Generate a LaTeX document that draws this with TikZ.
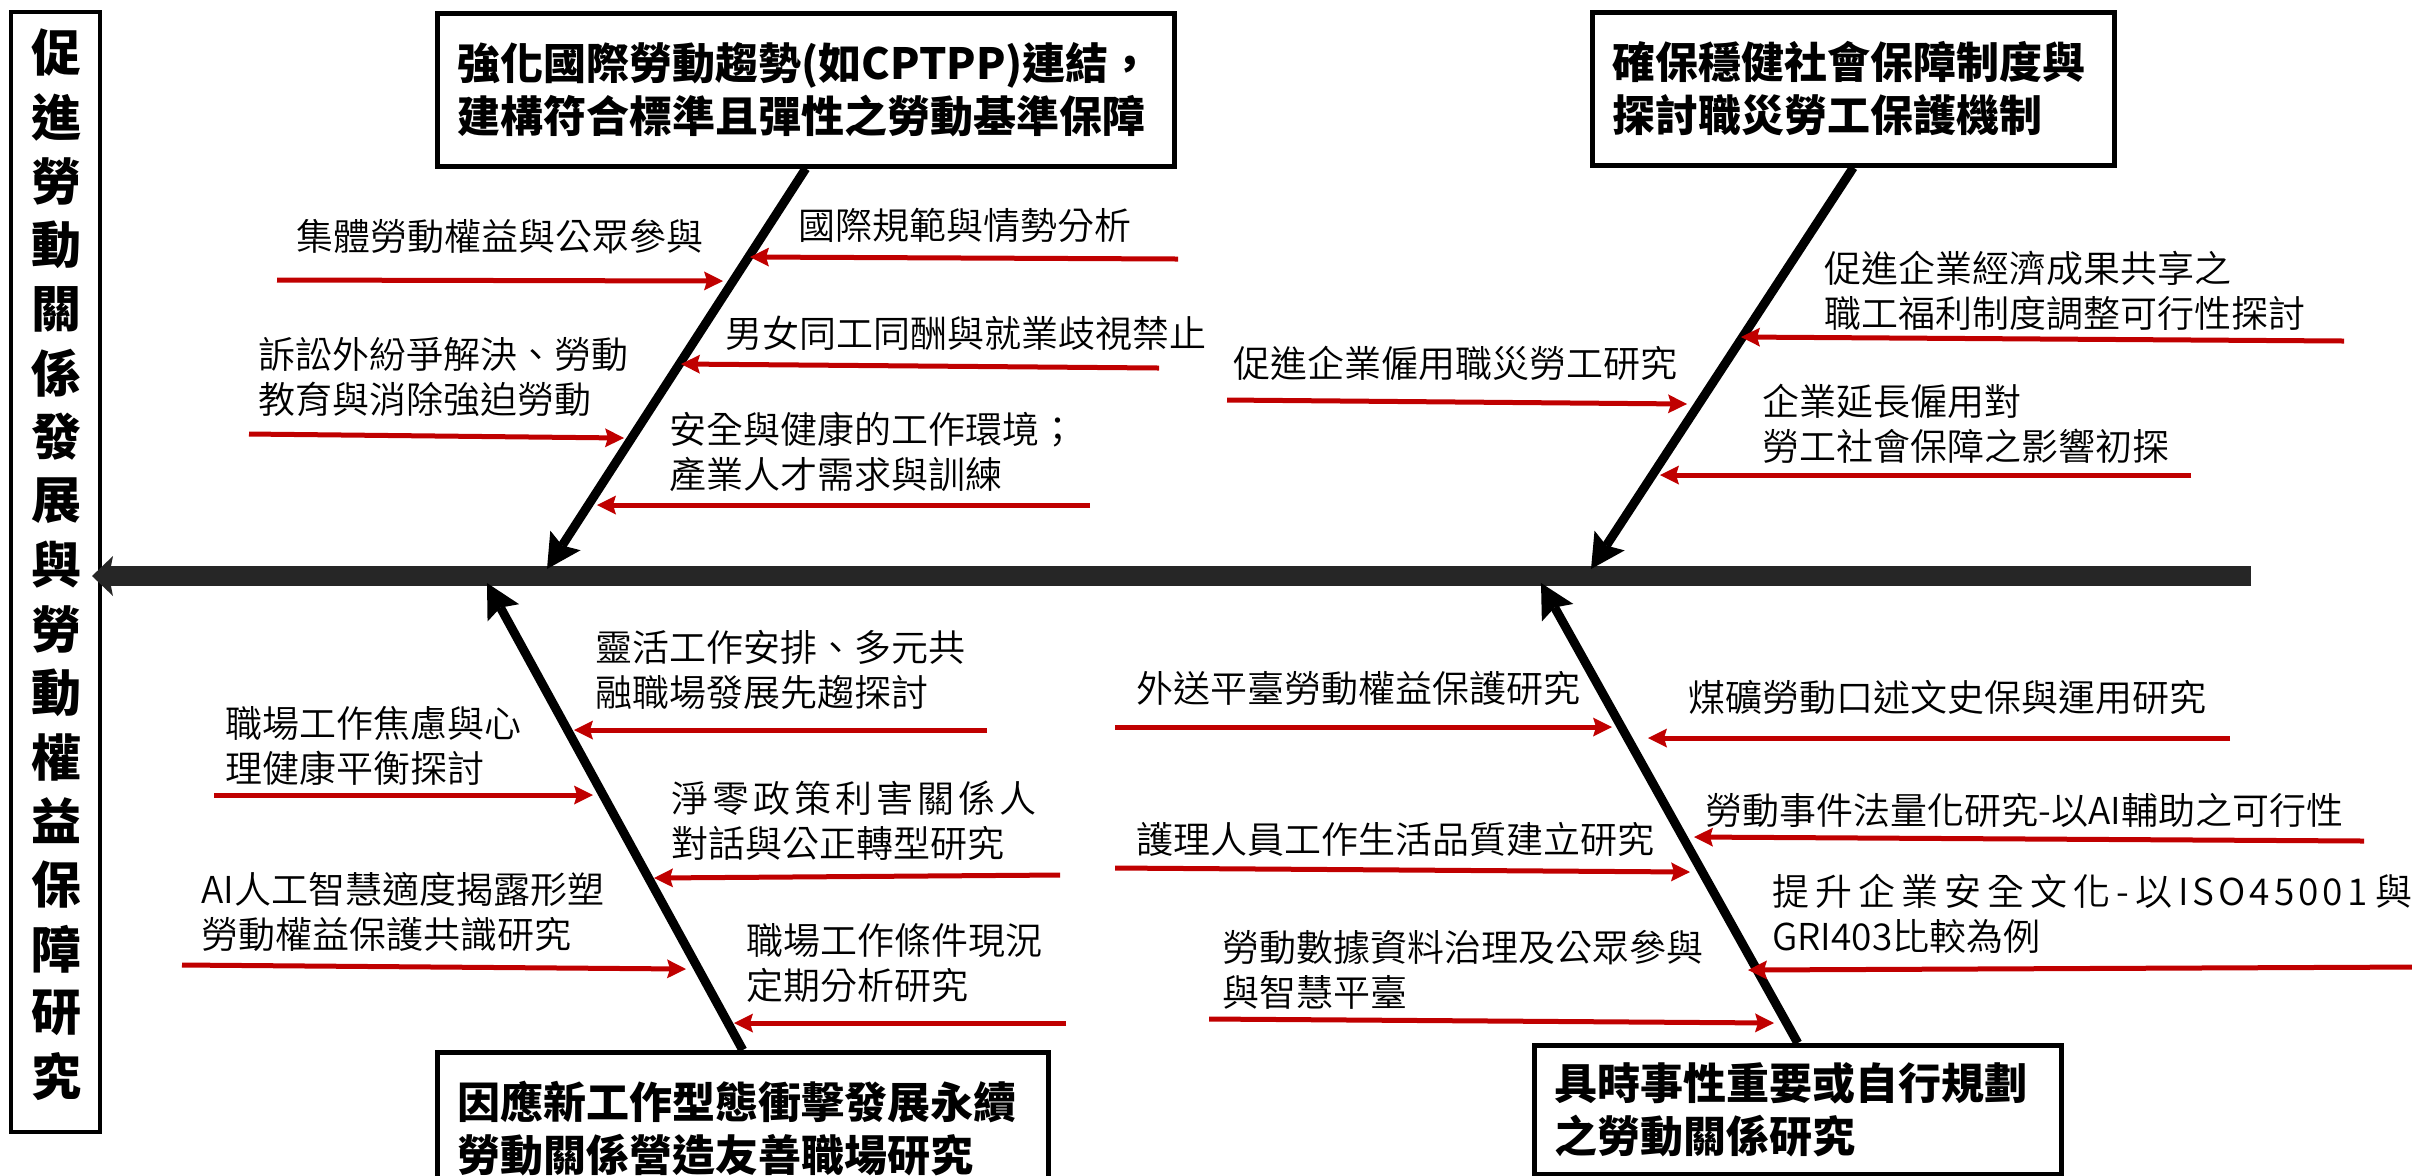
\documentclass[tikz,border=0pt]{standalone}
\usepackage{fontspec}
\newfontfamily\cjk{Noto Sans CJK TC}
\IfFontExistsTF{Noto Sans CJK TC DemiLight}{\newfontfamily\cjkl{Noto Sans CJK TC DemiLight}}{\newfontfamily\cjkl{Noto Sans CJK TC}}
\usetikzlibrary{arrows.meta,calc}
\definecolor{redarr}{HTML}{C00000}
\definecolor{spinec}{HTML}{262626}
\newcommand\ks{\kern3pt}
\newcommand\kt{\kern2pt}
\begin{document}
\begin{tikzpicture}[x=0.5pt,y=-0.5pt,
  lbl/.style={anchor=west, inner sep=0pt, align=left, font=\cjkl\fontsize{18.5}{22.5}\selectfont},
  catbox/.style={draw, line width=2.25pt, fill=white, anchor=north west, inner xsep=10pt, inner ysep=0pt, align=left, font=\cjk\bfseries\fontsize{21.5}{26.5}\selectfont},
  spine/.style={spinec, line width=10pt, -{Stealth[length=10.5pt,width=20pt,inset=2pt,line width=0pt]}},
  bone/.style={black, line width=4.5pt, -{Stealth[length=17pt,width=18pt,inset=3pt,line width=0pt]}},
  cause/.style={redarr, line width=2.5pt, -{Stealth[length=9.5pt,width=9.5pt,inset=1.5pt,line width=0pt]}},
  titlechar/.style={inner sep=0pt, font=\cjk\bfseries\fontsize{25}{30}\selectfont}]
\useasboundingbox (0,0) rectangle (2412,1175);

% title box
\node[draw, line width=2pt, minimum width=44.5pt, minimum height=560pt, inner sep=0pt] (title) at (55.5,572) {};
\foreach \c [count=\i from 0] in {促,進,勞,動,關,係,發,展,與,勞,動,權,益,保,障,研,究}
  \node[titlechar] (tc\i) at (57,53+64*\i) {\c};

% category boxes
\node[catbox, text width=348.5pt, minimum height=76.5pt] (tlbox) at (435,11) {強化國際勞動趨勢(如CPTPP)連結，\\建構符合標準且彈性之勞動基準保障};
\node[catbox, text width=241pt, minimum height=76.5pt] (trbox) at (1590,10) {確保穩健社會保障制度與\\探討職災勞工保護機制};
\node[catbox, text width=285.5pt, minimum height=76.5pt] (blbox) at (435,1050) {因應新工作型態衝擊發展永續\\勞動關係營造友善職場研究};
\node[catbox, text width=243.5pt, minimum height=64.5pt] (brbox) at (1532,1043) {具時事性重要或自行規劃\\之勞動關係研究};

% spine
\coordinate (spR) at (2251,576);
\coordinate (sptip) at ($(title.east |- spR)+(-10,0)$);
\draw[spine] (spR) -- (sptip);

% bones
\coordinate (tltip) at (547,569);
\coordinate (trtip) at (1591,569);
\coordinate (bltip) at (487,583);
\coordinate (brtip) at (1541,583);
\draw[bone] (tlbox.south) -- (tltip);
\draw[bone] (trbox.south) -- (trtip);
\draw[bone] (blbox.north) -- (bltip);
\draw[bone] (brbox.north) -- (brtip);

% top-left causes
\coordinate (a1s) at (277,280);  \coordinate (a1e) at (723,281);
\coordinate (a2s) at (1178,259); \coordinate (a2e) at (750,257);
\coordinate (a3s) at (1159,368); \coordinate (a3e) at (681,364);
\coordinate (a4s) at (249,434);  \coordinate (a4e) at (624,438);
\coordinate (a5s) at (1090,505); \coordinate (a5e) at (597,505);
\foreach \k in {1,...,5} \draw[cause] (a\k s) -- (a\k e);
\node[lbl] (la1) at (296,237) {集體勞動權益與公眾參與};
\node[lbl] (la2) at (798,225) {國際規範與情勢分析};
\node[lbl] (la3) at (725,333) {男女同工同酬與就業歧視禁止};
\node[lbl] (la4) at (258,376.5) {訴訟外紛爭解決、勞動\\教育與消除強迫勞動};
\node[lbl] (la5) at (669,452) {安全與健康的工作環境；\\產業人才需求與訓練};

% top-right causes
\coordinate (b1s) at (2344,341); \coordinate (b1e) at (1741,337);
\coordinate (b2s) at (1227,400); \coordinate (b2e) at (1687,404);
\coordinate (b3s) at (2191,475); \coordinate (b3e) at (1660,475);
\foreach \k in {1,...,3} \draw[cause] (b\k s) -- (b\k e);
\node[lbl] (lb1) at (1824,291) {促進企業經濟成果共享之\\職工福利制度調整可行性探討};
\node[lbl] (lb2) at (1233,363) {促進企業僱用職災勞工研究};
\node[lbl] (lb3) at (1762,424) {企業延長僱用對\\勞工社會保障之影響初探};

% bottom-left causes
\coordinate (c1s) at (987,730);  \coordinate (c1e) at (574,730);
\coordinate (c2s) at (214,795);  \coordinate (c2e) at (593,795);
\coordinate (c3s) at (1060,875); \coordinate (c3e) at (654,878);
\coordinate (c4s) at (182,965);  \coordinate (c4e) at (686,969);
\coordinate (c5s) at (1066,1023); \coordinate (c5e) at (734,1023);
\foreach \k in {1,...,5} \draw[cause] (c\k s) -- (c\k e);
\node[lbl] (lc1) at (595,670) {靈活工作安排、多元共\\融職場發展先趨探討};
\node[lbl] (lc2) at (225,745.5) {職場工作焦慮與心\\理健康平衡探討};
\node[lbl] (lc3) at (671,820.5) {淨\kt 零\kt 政\kt 策\kt 利\kt 害\kt 關\kt 係\kt 人\\對話與公正轉型研究};
\node[lbl] (lc4) at (201,911.5) {AI人工智慧適度揭露形塑\\勞動權益保護共識研究};
\node[lbl] (lc5) at (746,963) {職場工作條件現況\\定期分析研究};

% bottom-right causes
\coordinate (d1s) at (1115,727);  \coordinate (d1e) at (1612,727);
\coordinate (d2s) at (2230,738);  \coordinate (d2e) at (1648,738);
\coordinate (d3s) at (2364,841);  \coordinate (d3e) at (1694,837);
\coordinate (d4s) at (1115,868);  \coordinate (d4e) at (1690,872);
\coordinate (d5s) at (2420,967);  \coordinate (d5e) at (1748,970);
\coordinate (d6s) at (1209,1019); \coordinate (d6e) at (1774,1023);
\foreach \k in {1,...,6} \draw[cause] (d\k s) -- (d\k e);
\node[lbl] (ld1) at (1136,688) {外送平臺勞動權益保護研究};
\node[lbl] (ld2) at (1688,697) {煤礦勞動口述文史保與運用研究};
\node[lbl] (ld3) at (1705,810) {勞動事件法量化研究-以AI輔助之可行性};
\node[lbl] (ld4) at (1136,839) {護理人員工作生活品質建立研究};
\node[lbl] (ld5) at (1772,913.5) {提\ks 升\ks 企\ks 業\ks 安\ks 全\ks 文\ks 化\ks -\ks 以\ks I\kern2pt S\kern2pt O\kern2pt 4\kern2pt 5\kern2pt 0\kern2pt 0\kern2pt 1\kern4pt 與\\GRI403比較為例};
\node[lbl] (ld6) at (1222,969.5) {勞動數據資料治理及公眾參與\\與智慧平臺};
\end{tikzpicture}
\end{document}
